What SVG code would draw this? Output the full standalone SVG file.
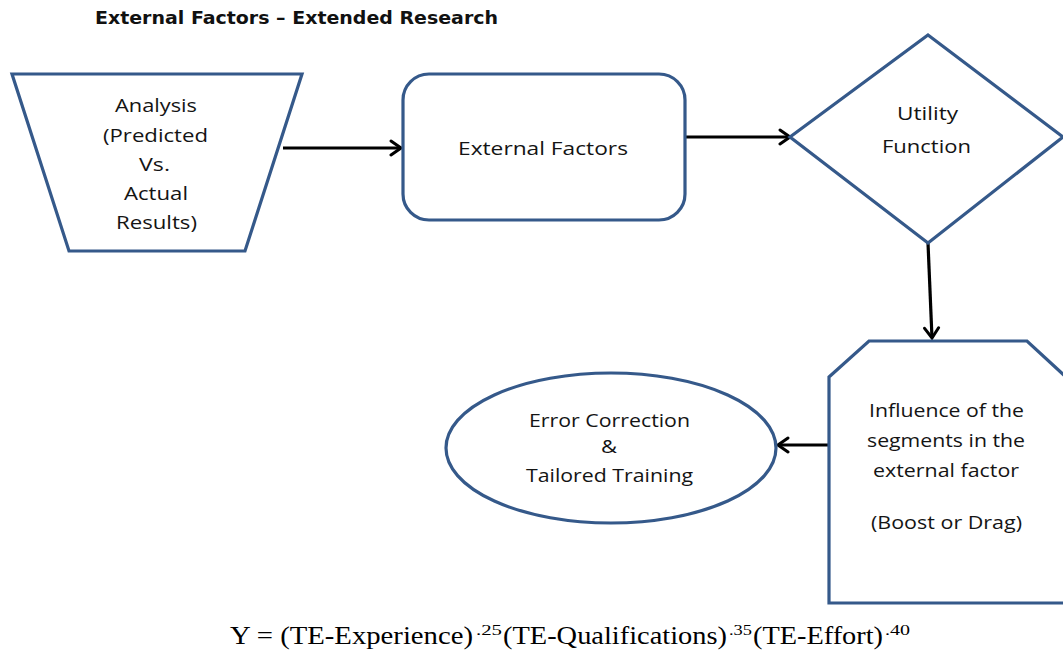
<svg xmlns="http://www.w3.org/2000/svg" width="1063" height="651" viewBox="0 0 1063 651">
  <style>
    .shape { fill: #ffffff; stroke: #35598a; stroke-width: 3.2; stroke-linejoin: miter; }
    .label { font-family: "Open Sans", "Liberation Sans", sans-serif; font-size: 18px; fill: #141414; }
    .title { font-family: "DejaVu Sans", "Liberation Sans", sans-serif; font-size: 17px; font-weight: bold; fill: #111111; }
    .eq { font-family: "Liberation Serif", "Times New Roman", serif; font-size: 25px; fill: #000000; }
    .exp { font-family: "Liberation Serif", "Times New Roman", serif; font-size: 15px; fill: #000000; }
    .edge { fill: none; stroke: #000000; stroke-width: 3.2; }
  </style>
  <defs>
    <marker id="arrow" viewBox="0 0 14 18" refX="12" refY="9" markerWidth="14" markerHeight="18" markerUnits="userSpaceOnUse" orient="auto">
      <path d="M2,2 L12,9 L2,16" fill="none" stroke="#000000" stroke-width="3" stroke-linecap="round" stroke-linejoin="miter"/>
    </marker>
  </defs>

  <rect width="1063" height="651" fill="#ffffff"/>

  <text class="title" x="95" y="24" textLength="403" lengthAdjust="spacingAndGlyphs">External Factors – Extended Research</text>

  <!-- connectors -->
  <g id="connectors">
    <line class="edge" x1="283" y1="148" x2="401" y2="148" marker-end="url(#arrow)"/>
    <line class="edge" x1="686" y1="137" x2="790" y2="137" marker-end="url(#arrow)"/>
    <line class="edge" x1="928" y1="243" x2="932" y2="338" marker-end="url(#arrow)"/>
    <line class="edge" x1="829" y1="445" x2="778" y2="445" marker-end="url(#arrow)"/>
  </g>

  <g id="analysis">
    <polygon class="shape" points="12,74 302,74 245,251 69,251"/>
    <text class="label" x="115" y="112" textLength="82" lengthAdjust="spacingAndGlyphs">Analysis</text>
    <text class="label" x="103" y="142" textLength="105" lengthAdjust="spacingAndGlyphs">(Predicted</text>
    <text class="label" x="139" y="171" textLength="31" lengthAdjust="spacingAndGlyphs">Vs.</text>
    <text class="label" x="124" y="200" textLength="64" lengthAdjust="spacingAndGlyphs">Actual</text>
    <text class="label" x="116" y="229" textLength="81" lengthAdjust="spacingAndGlyphs">Results)</text>
  </g>

  <g id="external-factors">
    <rect class="shape" x="403" y="74" width="282" height="146" rx="26" ry="26"/>
    <text class="label" x="458" y="155" textLength="170" lengthAdjust="spacingAndGlyphs">External Factors</text>
  </g>

  <g id="utility-function">
    <polygon class="shape" points="928,35 1063,137 928,243 790,137"/>
    <text class="label" x="897" y="120" textLength="61" lengthAdjust="spacingAndGlyphs">Utility</text>
    <text class="label" x="882" y="153" textLength="89" lengthAdjust="spacingAndGlyphs">Function</text>
  </g>

  <g id="segment-influence">
    <polygon class="shape" points="829,377 869,341 1027,341 1067,378 1067,603 829,603"/>
    <text class="label" x="869" y="417" textLength="155" lengthAdjust="spacingAndGlyphs">Influence of the</text>
    <text class="label" x="867" y="447" textLength="158" lengthAdjust="spacingAndGlyphs">segments in the</text>
    <text class="label" x="873" y="477" textLength="146" lengthAdjust="spacingAndGlyphs">external factor</text>
    <text class="label" x="871" y="529" textLength="151" lengthAdjust="spacingAndGlyphs">(Boost or Drag)</text>
  </g>

  <g id="error-correction">
    <ellipse class="shape" cx="611" cy="448" rx="165" ry="75"/>
    <text class="label" x="529" y="427" textLength="161" lengthAdjust="spacingAndGlyphs">Error Correction</text>
    <text class="label" x="601" y="453" textLength="16" lengthAdjust="spacingAndGlyphs">&amp;</text>
    <text class="label" x="526" y="482" textLength="167" lengthAdjust="spacingAndGlyphs">Tailored Training</text>
  </g>

  <!-- weighted product formula with exponents -->
  <g id="formula">
    <text class="eq" x="230" y="644" textLength="243" lengthAdjust="spacingAndGlyphs">Y = (TE-Experience)</text>
    <text class="exp" x="476" y="635" textLength="26" lengthAdjust="spacingAndGlyphs">.25</text>
    <text class="eq" x="503" y="644" textLength="224" lengthAdjust="spacingAndGlyphs">(TE-Qualifications)</text>
    <text class="exp" x="729" y="635" textLength="23" lengthAdjust="spacingAndGlyphs">.35</text>
    <text class="eq" x="753" y="644" textLength="130" lengthAdjust="spacingAndGlyphs">(TE-Effort)</text>
    <text class="exp" x="885" y="635" textLength="25" lengthAdjust="spacingAndGlyphs">.40</text>
  </g>
</svg>
